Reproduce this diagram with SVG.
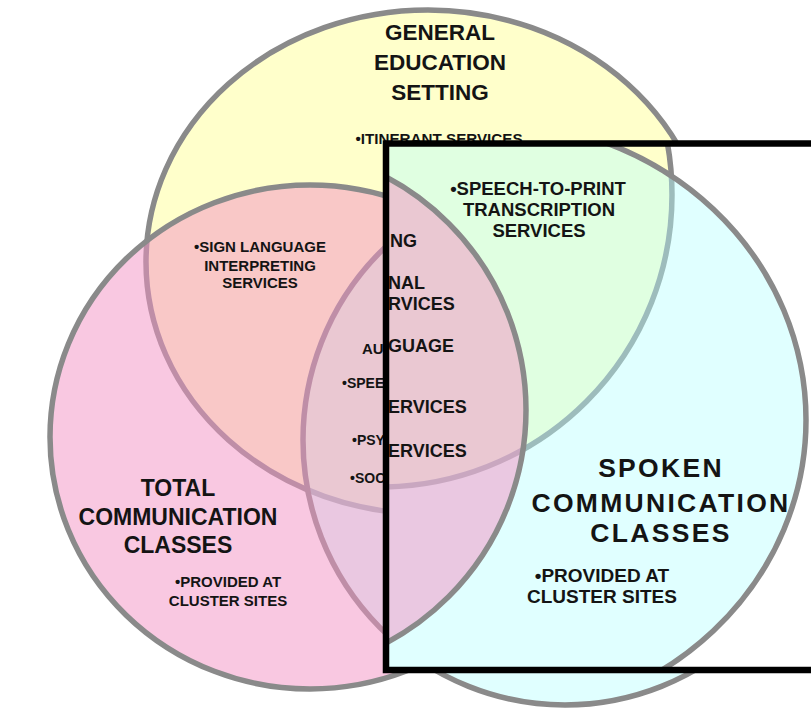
<svg xmlns="http://www.w3.org/2000/svg" width="811" height="709" viewBox="0 0 811 709">
<style>
.t{font-family:"Liberation Sans",Arial,sans-serif;font-weight:bold;fill:#141414}
.c{text-anchor:middle}
.ring{stroke:#8a8a8a;stroke-width:5.5}
.yel{fill:#FFFFCB}
.cya{fill:rgb(183,255,255);fill-opacity:0.43}
.pnk{fill:rgb(243,147,196);fill-opacity:0.51}
</style>
<defs>
<clipPath id="insetClip"><rect x="386" y="143.5" width="440" height="526.5"/></clipPath>
</defs>
<rect width="811" height="709" fill="#ffffff"/>

<g id="base-diagram">
  <g id="set-general-education">
    <ellipse class="ring yel" cx="428" cy="262" rx="282" ry="252"/>
  </g>
  <g id="set-spoken-communication">
    <ellipse class="ring cya" cx="565" cy="440" rx="262" ry="265"/>
  </g>
  <g id="set-total-communication">
    <ellipse class="ring pnk" cx="310" cy="437" rx="260" ry="252"/>
  </g>
  <g id="label-general">
    <text class="t c" x="440" y="40" font-size="22.5">GENERAL</text>
    <text class="t c" x="440" y="70" font-size="22.5">EDUCATION</text>
    <text class="t c" x="440" y="100" font-size="22.5">SETTING</text>
    <text class="t c" x="439" y="144" font-size="15.2">•ITINERANT SERVICES</text>
  </g>
  <g id="label-sign-language">
    <text class="t c" x="260" y="252" font-size="15">•SIGN LANGUAGE</text>
    <text class="t c" x="260" y="271" font-size="15">INTERPRETING</text>
    <text class="t c" x="260" y="288" font-size="15">SERVICES</text>
  </g>
  <g id="label-total">
    <text class="t c" x="178" y="496" font-size="23">TOTAL</text>
    <text class="t c" x="178" y="525" font-size="23">COMMUNICATION</text>
    <text class="t c" x="178" y="553" font-size="23">CLASSES</text>
    <text class="t c" x="228" y="587" font-size="15">•PROVIDED AT</text>
    <text class="t c" x="228" y="606" font-size="15">CLUSTER SITES</text>
  </g>
  <g id="label-center-left">
    <text class="t" x="362" y="354" font-size="15">AU</text>
    <text class="t" x="342" y="388" font-size="14">•SPEE</text>
    <text class="t" x="352" y="445" font-size="14">•PSY</text>
    <text class="t" x="350" y="483" font-size="14">•SOC</text>
  </g>
</g>

<g id="inset" clip-path="url(#insetClip)">
  <rect x="386" y="143.5" width="440" height="526.5" fill="#ffffff"/>
  <g id="inset-general">
    <circle class="ring yel" cx="380" cy="195" r="292"/>
  </g>
  <g id="inset-spoken">
    <ellipse class="ring cya" cx="490" cy="420" rx="316" ry="298"/>
  </g>
  <g id="inset-total">
    <circle class="ring pnk" cx="262" cy="410" r="264"/>
  </g>
  <g id="inset-center-labels">
    <text class="t" x="390" y="247" font-size="18">NG</text>
    <text class="t" x="388" y="289" font-size="18">NAL</text>
    <text class="t" x="388" y="310" font-size="18">RVICES</text>
    <text class="t" x="388" y="352" font-size="18">GUAGE</text>
    <text class="t" x="388" y="413" font-size="18">ERVICES</text>
    <text class="t" x="388" y="457" font-size="18">ERVICES</text>
  </g>
  <g id="inset-speech-to-print">
    <text class="t c" x="538" y="195" font-size="18.5">•SPEECH-TO-PRINT</text>
    <text class="t c" x="539" y="216" font-size="18.5">TRANSCRIPTION</text>
    <text class="t c" x="539" y="237" font-size="18.5">SERVICES</text>
  </g>
  <g id="inset-spoken-label">
    <text class="t c" x="661" y="477" font-size="26.5" letter-spacing="2.3">SPOKEN</text>
    <text class="t c" x="661" y="512" font-size="26.5" letter-spacing="2.3">COMMUNICATION</text>
    <text class="t c" x="661" y="542" font-size="26.5" letter-spacing="2.3">CLASSES</text>
    <text class="t c" x="602" y="582" font-size="19">•PROVIDED AT</text>
    <text class="t c" x="602" y="603" font-size="19">CLUSTER SITES</text>
  </g>
</g>
<rect id="inset-frame" x="386" y="143.5" width="440" height="526.5" fill="none" stroke="#000000" stroke-width="6.5"/>
</svg>
